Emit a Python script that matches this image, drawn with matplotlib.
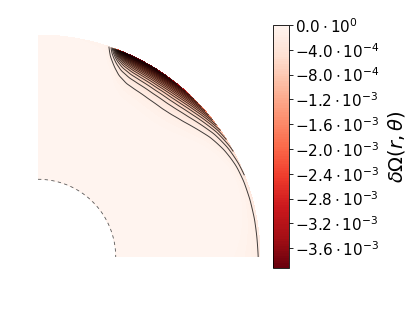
import numpy as np
import matplotlib
matplotlib.use("Agg")
import matplotlib.pyplot as plt
import matplotlib.ticker as ticker

# perfiles (colatitud en grados)
theta_s = [0, 10, 17, 19, 20, 21, 22, 24, 27, 30, 35, 40, 45, 50, 55, 60, 65, 70, 75, 80, 90]
surf_val = [-0.02, -0.04, -0.08, -0.2, -0.9, -2.2, -3.3, -3.9, -3.92, -3.85, -3.6, -3.0,
            -2.3, -1.6, -1.0, -0.65, -0.46, -0.36, -0.3, -0.26, -0.22]  # x 1e-3
theta_d = [0, 10, 17, 19, 20, 21, 22, 24, 27, 30, 35, 40, 43, 47, 50, 53, 57, 60, 63, 66,
           70, 75, 80, 85, 90]
depth = [0.03, 0.03, 0.03, 0.03, 0.025, 0.025, 0.028, 0.035, 0.041, 0.043, 0.045, 0.047,
         0.047, 0.045, 0.042, 0.038, 0.032, 0.028, 0.024, 0.021, 0.021, 0.026, 0.036,
         0.05, 0.07]

r_in, r_out = 0.35, 1.0
vmin = -3.92e-3
cbar_ticks = [0.0, -4e-4, -8e-4, -1.2e-3, -1.6e-3, -2.0e-3, -2.4e-3, -2.8e-3, -3.2e-3, -3.6e-3]

# malla polar
r = np.linspace(r_in, r_out, 400)
th = np.linspace(0, 90, 600)
S = np.interp(th, theta_s, surf_val) * 1e-3
D = np.interp(th, theta_d, depth)
# suavizado leve en colatitud para evitar quiebres
k = np.ones(9) / 9
D = np.convolve(np.pad(D, 4, mode="edge"), k, mode="valid")
S = np.convolve(np.pad(S, 4, mode="edge"), k, mode="valid")
R, TH = np.meshgrid(r, th)
Z = S[:, None] * np.exp(-(r_out - R) / D[:, None])
Z = np.clip(Z, vmin, 0)
X = R * np.sin(np.radians(TH))
Y = R * np.cos(np.radians(TH))

W, H = 415, 311
fig = plt.figure(figsize=(W / 100, H / 100), dpi=100)
m = 0.05
ax = fig.add_axes([(38 - m * 222) / W, (54 - m * 222) / H, 222 * (1 + 2 * m) / W, 222 * (1 + 2 * m) / H])
ax.set_xlim(-m, 1 + m)
ax.set_ylim(-m, 1 + m)
ax.set_aspect("equal")
ax.axis("off")

cf = ax.contourf(X, Y, Z, levels=np.linspace(vmin, 0, 101), cmap="Reds_r", vmin=vmin, vmax=0)
ax.contour(X, Y, Z, levels=np.linspace(vmin, 0, 21)[1:-1], colors="k",
           linewidths=0.7, linestyles="solid", alpha=0.75)

# borde interior punteado
t = np.linspace(0, np.pi / 2, 100)
ax.plot(r_in * np.sin(t), r_in * np.cos(t), color="0.35", lw=0.6, ls=(0, (4, 4)))

cax = fig.add_axes([273 / W, 43 / H, 16 / W, 243 / H])
cb = fig.colorbar(cf, cax=cax, ticks=cbar_ticks)

def sci_fmt(v, pos):
    if v == 0:
        return r"$0.0\cdot10^{0}$"
    e = int(np.floor(np.log10(abs(v)) + 1e-9))
    return rf"${v / 10**e:.1f}\cdot10^{{{e}}}$"

cb.ax.yaxis.set_major_formatter(ticker.FuncFormatter(sci_fmt))
cb.ax.tick_params(labelsize=11, length=3, width=0.6, pad=1)
cb.outline.set_linewidth(0.6)
cb.set_label(r"$\delta\Omega(r,\theta)$", fontsize=14, labelpad=5)

fig.savefig("out.png", dpi=100)
